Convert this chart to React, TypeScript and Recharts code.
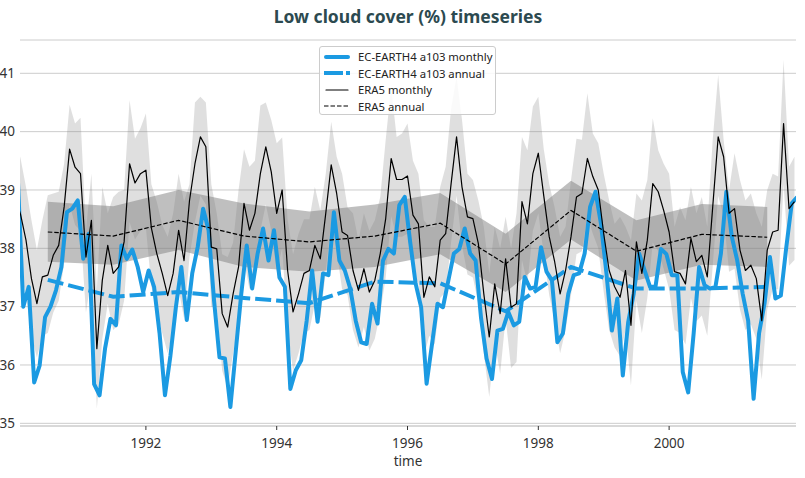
import React from 'react';
import { ComposedChart, Line, Area, XAxis, YAxis, CartesianGrid } from 'recharts';

// ERA5 monthly low cloud cover (%), Jan 1990 .. Dec 2001 (first-of-month stamps)
const eraMonthly = [
  38.9,
  38.58, 38.14, 37.48, 37.05, 37.51, 37.54, 37.88, 38.05, 38.71, 39.7, 39.39, 39.28,
  37.85, 38.48, 36.28, 37.45, 38.05, 37.57, 37.68, 38.11, 39.45, 39.12, 39.28, 39.34,
  38.35, 37.91, 37.57, 37.19, 37.57, 38.31, 37.79, 38.82, 39.45, 39.91, 39.74, 38.02,
  37.99, 36.88, 36.65, 37.22, 37.68, 38.77, 38.31, 38.6, 39.28, 39.74, 39.31, 38.6,
  39.0, 37.62, 36.91, 37.22, 37.57, 37.62, 38.05, 37.82, 38.6, 39.43, 38.94, 38.28,
  38.22, 37.62, 37.28, 37.65, 37.25, 37.45, 37.91, 38.51, 39.54, 39.18, 39.18, 39.24,
  38.57, 38.42, 37.16, 37.51, 37.34, 38.14, 38.25, 39.11, 39.91, 39.05, 38.54, 38.51,
  38.08, 37.22, 36.48, 37.39, 36.88, 37.82, 36.99, 37.05, 38.8, 38.42, 39.28, 39.63,
  38.9, 38.2, 37.77, 37.22, 37.62, 38.2, 38.88, 38.94, 39.54, 39.23, 39.0, 38.25,
  37.62, 37.34, 37.16, 37.62, 36.68, 38.11, 37.57, 38.14, 39.11, 38.97, 38.65, 38.28,
  37.6, 37.57, 37.39, 38.17, 37.77, 37.88, 37.51, 38.71, 39.91, 39.57, 38.6, 38.68,
  37.97, 37.62, 37.71, 37.48, 36.76, 37.97, 38.28, 38.31, 40.14, 38.68, 38.8,
];

const eraMonthlyHigh = [
  39.9,
  39.54, 39.05, 38.48, 37.97, 38.48, 38.91, 38.94, 38.97, 39.45, 40.46, 40.14, 40.24,
  38.3, 39.28, 37.3, 39.05, 38.6, 38.88, 38.97, 39.0, 40.54, 39.88, 40.06, 40.31,
  39.1, 38.8, 38.4, 38.2, 38.6, 39.28, 38.8, 39.1, 40.5, 40.6, 40.5, 39.1,
  38.6, 37.9, 37.85, 38.1, 39.0, 39.7, 39.4, 39.5, 40.45, 40.5, 40.2, 39.8,
  39.9, 38.5, 37.9, 38.25, 38.5, 38.5, 39.05, 38.65, 39.28, 40.17, 39.57, 39.28,
  38.7, 38.6, 38.14, 38.6, 38.3, 38.48, 38.88, 39.86, 40.77, 39.91, 39.97, 40.14,
  39.5, 39.28, 38.48, 38.37, 38.37, 39.05, 39.4, 40.4, 40.95, 40.2, 39.28, 39.17,
  38.82, 38.37, 37.57, 38.37, 38.0, 38.54, 38.0, 38.6, 39.91, 39.68, 40.43, 40.6,
  39.7, 39.1, 38.7, 38.2, 38.37, 39.17, 39.88, 39.86, 40.66, 39.97, 39.8, 39.28,
  38.82, 38.42, 38.54, 38.37, 38.14, 38.94, 38.82, 39.17, 40.23, 39.68, 39.45, 39.28,
  38.37, 38.71, 38.48, 39.05, 38.6, 38.88, 38.37, 39.86, 40.97, 39.86, 39.0, 39.63,
  39.17, 38.82, 38.94, 38.6, 38.37, 39.0, 39.28, 39.23, 41.23, 39.4, 39.57,
];

const eraMonthlyLow = [
  37.9,
  37.6, 37.2, 36.5, 36.13, 36.5, 36.55, 36.9, 37.1, 37.75, 38.75, 38.4, 38.3,
  36.9, 37.5, 35.25, 36.45, 37.05, 36.6, 36.7, 37.1, 38.45, 38.15, 38.3, 38.35,
  37.35, 36.9, 36.55, 36.2, 36.6, 37.3, 36.8, 37.85, 38.45, 38.9, 38.75, 37.0,
  37.0, 35.9, 35.6, 36.2, 36.7, 37.8, 37.3, 37.6, 38.3, 38.75, 38.3, 37.6,
  38.0, 36.6, 35.9, 36.2, 36.55, 36.6, 37.05, 36.8, 37.6, 38.45, 37.95, 37.3,
  37.2, 36.6, 36.3, 36.65, 36.25, 36.45, 36.9, 37.5, 38.55, 38.2, 38.2, 38.25,
  37.55, 37.4, 36.15, 36.5, 36.35, 37.15, 37.25, 38.1, 38.9, 38.05, 37.55, 37.5,
  37.05, 36.2, 35.45, 36.4, 35.85, 36.8, 35.95, 36.05, 37.8, 37.4, 38.3, 38.6,
  37.9, 37.2, 36.75, 36.2, 36.6, 37.2, 37.9, 37.95, 38.55, 38.25, 38.0, 37.25,
  36.6, 36.3, 36.15, 36.6, 35.65, 37.1, 36.55, 37.15, 38.1, 37.95, 37.65, 37.3,
  36.6, 36.55, 36.35, 37.15, 36.75, 36.85, 36.5, 37.7, 38.9, 38.55, 37.6, 37.65,
  36.95, 36.6, 36.7, 36.45, 35.75, 36.95, 37.3, 37.3, 39.1, 37.7, 37.8,
];

// EC-EARTH4 a103 monthly, Jan 1990 .. Dec 2001 (mid-month stamps)
const ecMonthly = [
  39.2,
  37.0, 37.34, 35.7, 35.99, 36.82, 37.0, 37.28, 37.68, 38.62, 38.68, 38.82, 37.82,
  38.25, 35.67, 35.48, 36.28, 36.79, 36.68, 38.05, 37.82, 37.98, 37.68, 37.25, 37.62,
  37.34, 36.55, 35.48, 36.16, 36.99, 37.68, 36.77, 37.57, 38.02, 38.68, 38.31, 37.11,
  36.13, 36.11, 35.28, 36.25, 37.22, 38.05, 37.31, 37.91, 38.34, 37.79, 38.31, 37.5,
  37.34, 35.59, 35.91, 36.08, 36.76, 37.62, 36.74, 37.57, 37.54, 38.62, 37.79, 37.62,
  37.31, 36.76, 36.39, 36.36, 37.05, 36.71, 37.79, 37.99, 37.91, 38.74, 38.88, 38.1,
  37.39, 36.99, 35.68, 36.36, 37.05, 36.99, 37.45, 37.91, 37.99, 38.34, 37.91, 37.79,
  36.8, 36.11, 35.76, 36.59, 36.62, 36.91, 36.68, 36.74, 37.51, 37.31, 37.34, 38.02,
  37.6, 37.45, 36.39, 36.54, 37.22, 37.54, 37.57, 37.91, 38.71, 38.97, 38.42, 37.57,
  36.59, 37.14, 35.82, 36.74, 37.22, 37.91, 37.62, 37.34, 37.34, 37.99, 37.9, 37.54,
  37.54, 35.88, 35.53, 36.54, 37.68, 37.37, 37.31, 37.34, 37.91, 38.97, 38.2, 37.79,
  37.22, 36.76, 35.42, 36.54, 37.05, 37.85, 37.14, 37.19, 38.02, 38.77, 38.88,
];

const annualYears = [1990, 1991, 1992, 1993, 1994, 1995, 1996, 1997, 1998, 1999, 2000, 2001];
const eraAnnual = [38.28, 38.21, 38.48, 38.21, 38.11, 38.21, 38.43, 37.73, 38.65, 37.95, 38.24, 38.19];
const eraAnnualLow = [37.77, 37.72, 37.97, 37.68, 37.6, 37.68, 37.9, 37.25, 38.15, 37.45, 37.72, 37.68];
const eraAnnualHigh = [38.8, 38.72, 39.0, 38.77, 38.63, 38.75, 38.95, 38.25, 39.16, 38.48, 38.76, 38.71];
const ecAnnual = [37.46, 37.17, 37.25, 37.15, 37.06, 37.43, 37.4, 36.92, 37.68, 37.31, 37.31, 37.34];

const yearTicks = [1992, 1994, 1996, 1998, 2000];
const valueTicks = [35, 36, 37, 38, 39, 40, 41];

const BLUE = '#1b9ae2';
const FONT = '"Noto Sans", "DejaVu Sans", sans-serif';

const eraMonthlyRows = eraMonthly.map((v, i) => ({
  t: 1990 + i / 12,
  v,
  range: [eraMonthlyLow[i], eraMonthlyHigh[i]],
}));
const ecMonthlyRows = ecMonthly.map((v, i) => ({ t: 1990 + (i + 0.5) / 12, v }));
const eraAnnualRows = annualYears.map((y, i) => ({
  t: y + 0.5,
  v: eraAnnual[i],
  range: [eraAnnualLow[i], eraAnnualHigh[i]],
}));
const ecAnnualRows = annualYears.map((y, i) => ({ t: y + 0.5, v: ecAnnual[i] }));

const legendItems = [
  { label: 'EC-EARTH4 a103 monthly', color: BLUE, width: 4, dash: undefined },
  { label: 'EC-EARTH4 a103 annual', color: BLUE, width: 4, dash: '19 3' },
  { label: 'ERA5 monthly', color: '#000', width: 1.2, dash: undefined },
  { label: 'ERA5 annual', color: '#000', width: 1.2, dash: '4.5 2' },
];

export default function App() {
  return (
    <div
      style={{
        position: 'absolute',
        left: 0,
        top: 0,
        width: 805,
        height: 478,
        background: '#fff',
        fontFamily: FONT,
      }}
    >
      <div
        style={{
          position: 'absolute',
          left: 20,
          top: 4,
          width: 776,
          textAlign: 'center',
          fontWeight: 700,
          fontSize: 17.5,
          color: '#2c4a50',
        }}
      >
        Low cloud cover (%) timeseries
      </div>

      <ComposedChart width={805} height={478} margin={{ top: 40, right: 9, bottom: 0, left: 0 }}>
        <CartesianGrid horizontal vertical={false} stroke="#cccccc" />
        <XAxis
          type="number"
          dataKey="t"
          domain={[1990.075, 2001.94]}
          allowDataOverflow
          ticks={yearTicks}
          height={52}
          tickSize={4}
          tickMargin={8}
          tickLine={{ stroke: '#333' }}
          axisLine={{ stroke: '#cccccc' }}
          tick={{ fontSize: 13.5, fill: '#333', fontFamily: FONT }}
          label={{ value: 'time', position: 'insideBottom', offset: 12, fontSize: 13.5, fill: '#333', fontFamily: FONT }}
        />
        <YAxis
          type="number"
          domain={[34.954, 41.571]}
          allowDataOverflow
          ticks={valueTicks}
          width={20}
          tickSize={0}
          tickMargin={5}
          tickLine={false}
          axisLine={false}
          tick={{ fontSize: 13.5, fill: '#333', fontFamily: FONT }}
        />

        <Area
          data={eraMonthlyRows}
          dataKey="range"
          type="linear"
          stroke="none"
          fill="#808080"
          fillOpacity={0.25}
          isAnimationActive={false}
        />
        <Area
          data={eraAnnualRows}
          dataKey="range"
          type="linear"
          stroke="none"
          fill="#808080"
          fillOpacity={0.5}
          isAnimationActive={false}
        />

        <Line
          data={ecMonthlyRows}
          dataKey="v"
          type="linear"
          stroke={BLUE}
          strokeWidth={4}
          strokeLinejoin="round"
          dot={false}
          activeDot={false}
          isAnimationActive={false}
        />
        <Line
          data={ecAnnualRows}
          dataKey="v"
          type="linear"
          stroke={BLUE}
          strokeWidth={4}
          strokeDasharray="16 5"
          dot={false}
          activeDot={false}
          isAnimationActive={false}
        />
        <Line
          data={eraMonthlyRows}
          dataKey="v"
          type="linear"
          stroke="#000"
          strokeWidth={1.2}
          strokeLinejoin="round"
          dot={false}
          activeDot={false}
          isAnimationActive={false}
        />
        <Line
          data={eraAnnualRows}
          dataKey="v"
          type="linear"
          stroke="#000"
          strokeWidth={1.2}
          strokeDasharray="4.5 2"
          dot={false}
          activeDot={false}
          isAnimationActive={false}
        />
      </ComposedChart>

      {/* legend box */}
      <div
        style={{
          position: 'absolute',
          left: 319,
          top: 46,
          width: 177,
          height: 69,
          border: '1px solid #cccccc',
          borderRadius: 3,
          background: 'rgba(255,255,255,0.85)',
          boxSizing: 'border-box',
        }}
      >
        {legendItems.map((item, i) => (
          <div
            key={item.label}
            style={{
              position: 'absolute',
              left: 3,
              top: 1.5 + i * 16.6,
              height: 16,
              display: 'flex',
              alignItems: 'center',
              whiteSpace: 'nowrap',
            }}
          >
            <svg width={28} height={16} style={{ display: 'block' }}>
              <line
                x1={item.dash ? 1 : 3}
                x2={item.dash ? 27 : 25}
                y1={8}
                y2={8}
                stroke={item.color}
                strokeWidth={item.width}
                strokeDasharray={item.dash}
                strokeLinecap={item.dash ? 'butt' : 'round'}
              />
            </svg>
            <span style={{ marginLeft: 7, fontSize: 11.3, color: '#222' }}>{item.label}</span>
          </div>
        ))}
      </div>
    </div>
  );
}
